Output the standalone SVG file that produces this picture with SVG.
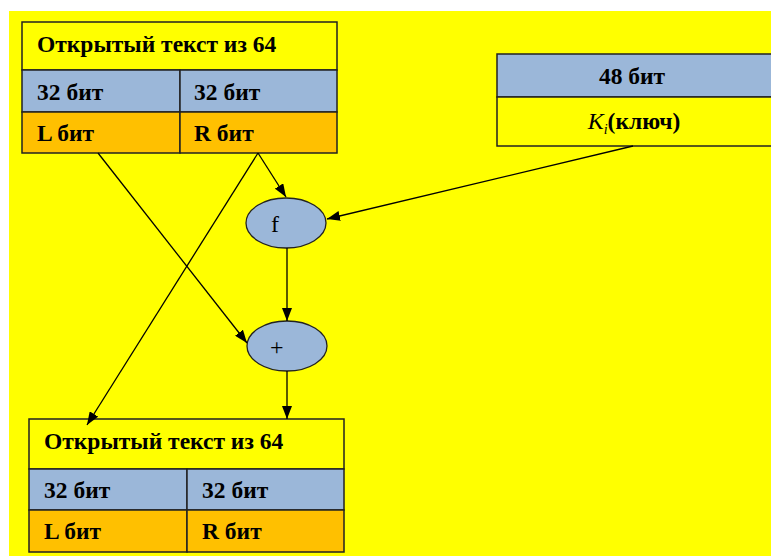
<svg xmlns="http://www.w3.org/2000/svg" width="771" height="556" viewBox="0 0 771 556">
<style>
.t{font-family:"Liberation Serif","Times New Roman",serif;font-weight:bold;font-size:23.5px;fill:#000}
.c{font-family:"Liberation Serif","Times New Roman",serif;font-size:24px;fill:#000}
.b{stroke:#222;stroke-width:1.5}
.y{fill:#FFFF00}
.bl{fill:#9BB7D9}
.o{fill:#FFC000}
.e{fill:#9BB7D9;stroke:#222;stroke-width:1.3}
.ln{stroke:#000;stroke-width:1.3;fill:none;marker-end:url(#ar)}
</style>
<defs>
<marker id="ar" viewBox="0 0 13 10" refX="13" refY="5" markerWidth="13" markerHeight="10" markerUnits="userSpaceOnUse" orient="auto">
<path d="M0,0 L13,5 L0,10 z" fill="#000"/>
</marker>
</defs>
<rect x="0" y="0" width="771" height="556" fill="#fff"/>
<rect x="9" y="11" width="762" height="545" fill="#FFFF00"/>
<g id="top-block">
<rect class="y b" x="22" y="22" width="315" height="48"/>
<rect class="bl b" x="22" y="70" width="158" height="42"/>
<rect class="bl b" x="180" y="70" width="157" height="42"/>
<rect class="o b" x="22" y="112" width="158" height="41"/>
<rect class="o b" x="180" y="112" width="157" height="41"/>
<text class="t" x="37" y="52">Открытый текст из 64</text>
<text class="t" x="37" y="100">32 бит</text>
<text class="t" x="194" y="100">32 бит</text>
<text class="t" x="37" y="141">L бит</text>
<text class="t" x="194" y="141">R бит</text>
</g>
<g id="key-block">
<rect class="bl b" x="497" y="54" width="280" height="43"/>
<rect class="y b" x="497" y="97" width="280" height="49"/>
<text class="t" x="632" y="84" text-anchor="middle">48 бит</text>
<text class="t" x="634" y="129" text-anchor="middle"><tspan font-style="italic" font-weight="normal" font-size="24">K</tspan><tspan font-style="italic" font-weight="normal" font-size="14" dy="5">i</tspan><tspan dy="-5">(ключ)</tspan></text>
</g>
<g id="f-node">
<ellipse class="e" cx="286" cy="223" rx="40" ry="25"/>
<text class="c" x="271" y="232">f</text>
</g>
<g id="plus-node">
<ellipse class="e" cx="287" cy="346" rx="40" ry="25"/>
<text class="c" x="270" y="355">+</text>
</g>
<g id="bottom-block">
<rect class="y b" x="29" y="419" width="315" height="50"/>
<rect class="bl b" x="29" y="469" width="158" height="41"/>
<rect class="bl b" x="187" y="469" width="157" height="41"/>
<rect class="o b" x="29" y="510" width="158" height="42"/>
<rect class="o b" x="187" y="510" width="157" height="42"/>
<text class="t" x="44" y="449">Открытый текст из 64</text>
<text class="t" x="44" y="498">32 бит</text>
<text class="t" x="202" y="498">32 бит</text>
<text class="t" x="44" y="539">L бит</text>
<text class="t" x="202" y="539">R бит</text>
</g>
<g id="connectors">
<line class="ln" x1="258" y1="153" x2="286" y2="197"/>
<line class="ln" x1="258" y1="153" x2="87" y2="425"/>
<line class="ln" x1="98" y1="153" x2="247" y2="343"/>
<line class="ln" x1="633" y1="146" x2="327" y2="219"/>
<line class="ln" x1="287" y1="248" x2="287" y2="321"/>
<line class="ln" x1="287" y1="371" x2="287" y2="419"/>
</g>
</svg>
